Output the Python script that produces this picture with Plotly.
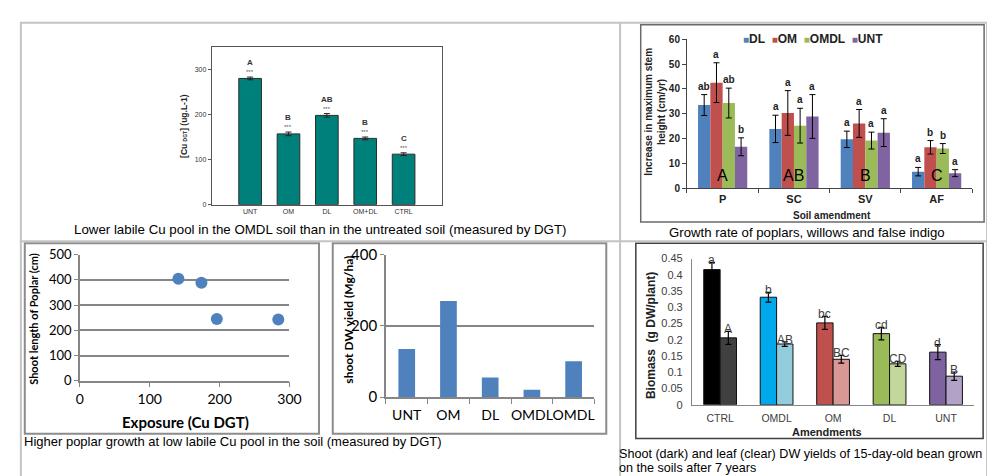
import plotly.graph_objects as go

W, H = 995, 476
def px(x): return x / W
def py(y): return 1 - y / H

# ---------------- data ----------------
# Chart 1: labile Cu (DGT)
cu_cats = ["UNT", "OM", "DL", "OM+DL", "CTRL"]
cu_vals = [280, 157, 198, 147, 112]
cu_err = [3, 4, 4, 3, 3]
cu_letters = ["A", "B", "AB", "B", "C"]

# Chart 2: growth rate
growth_species = ["P", "SC", "SV", "AF"]
growth_series = ["DL", "OM", "OMDL", "UNT"]
growth_DL = [33.5, 23.9, 19.7, 6.7]
growth_OM = [42.5, 30.3, 26.1, 16.5]
growth_OMDL = [34.3, 25.2, 19.2, 16.0]
growth_UNT = [16.7, 28.9, 22.4, 6.1]
err_DL = [4.2, 5.5, 3.3, 1.7]
err_OM = [8.0, 9.0, 5.6, 2.7]
err_OMDL = [6.0, 7.0, 3.4, 2.0]
err_UNT = [3.6, 8.8, 5.6, 1.4]
letters_DL = ["ab", "a", "a", "a"]
letters_OM = ["a", "a", "a", "b"]
letters_OMDL = ["ab", "a", "a", "b"]
letters_UNT = ["b", "a", "a", "a"]
species_letters = ["A", "AB", "B", "C"]

# Chart 3: shoot length vs exposure
exposure = [141, 174, 196, 284]
shoot_len = [405, 389, 245, 243]

# Chart 4: shoot DW yield
yield_cats = ["UNT", "OM", "DL", "OMDL", "OMDL"]
yield_vals = [135, 270, 55, 21, 101]

# Chart 5: bean biomass
bean_cats = ["CTRL", "OMDL", "OM", "DL", "UNT"]
shoot_dw = [0.416, 0.331, 0.252, 0.219, 0.162]
shoot_err = [0.022, 0.015, 0.020, 0.019, 0.023]
leaf_dw = [0.206, 0.187, 0.140, 0.126, 0.088]
leaf_err = [0.020, 0.007, 0.012, 0.008, 0.013]
shoot_letters = ["a", "b", "bc", "cd", "d"]
leaf_letters = ["A", "AB", "BC", "CD", "B"]

# ---------------- styles ----------------
ARIAL = "Liberation Sans, Arial, sans-serif"
CALIBRI = "Lato, Carlito, Calibri, sans-serif"
TEAL = "#00807b"
growth_colors = ["#4F81BD", "#C0504D", "#9BBB59", "#8064A2"]
shoot_colors = ["#000000", "#00A8EC", "#C0504D", "#9BBB59", "#7F63A1"]
leaf_colors = ["#404040", "#93CDDD", "#D99795", "#C4D79B", "#B3A2C7"]
GRID = "#868686"

fig = go.Figure()
annotations = []
shapes = []

def ann(text, x, y, size, family=ARIAL, color="#000", xanchor="center", yanchor="middle", angle=0, weight="normal"):
    annotations.append(dict(text=text, x=px(x), y=py(y), xref="paper", yref="paper", showarrow=False,
                            font=dict(size=size, family=family, color=color, weight=weight),
                            xanchor=xanchor, yanchor=yanchor, textangle=angle, borderpad=0))

def rect(x0, y0, x1, y1, color, width):
    shapes.append(dict(type="rect", xref="paper", yref="paper", x0=px(x0), x1=px(x1), y0=py(y1), y1=py(y0),
                       line=dict(color=color, width=width), fillcolor="rgba(0,0,0,0)", layer="above"))

def line(x0, y0, x1, y1, color, width):
    shapes.append(dict(type="line", xref="paper", yref="paper", x0=px(x0), x1=px(x1), y0=py(y0), y1=py(y1),
                       line=dict(color=color, width=width), layer="above"))

# ---------------- Chart 1 ----------------
idx1 = list(range(len(cu_cats)))
fig.add_trace(go.Bar(x=idx1, y=cu_vals, width=0.59, offset=-0.295, xaxis="x", yaxis="y",
                     marker=dict(color=TEAL, line=dict(color="#2b2b2b", width=1)),
                     error_y=dict(type="data", array=cu_err, color="#222", thickness=1, width=3),
                     showlegend=False, hoverinfo="skip"))
for i, (v, e, L) in enumerate(zip(cu_vals, cu_err, cu_letters)):
    annotations.append(dict(text="***", x=i, y=v + e, xref="x", yref="y", showarrow=False, yanchor="bottom",
                            yshift=0, font=dict(size=6, color="#555", family=ARIAL)))
    annotations.append(dict(text=L, x=i, y=v + e, xref="x", yref="y", showarrow=False, yanchor="bottom",
                            yshift=8, font=dict(size=8, color="#333", family=ARIAL, weight="bold")))
ann("<b>[Cu <span style='font-size:5px'>DGT</span>] (ug.L-1)</b>", 175, 112, 8.5, color="#222", angle=-90)

# ---------------- Chart 2 ----------------
g_vals = [growth_DL, growth_OM, growth_OMDL, growth_UNT]
g_errs = [err_DL, err_OM, err_OMDL, err_UNT]
g_lets = [letters_DL, letters_OM, letters_OMDL, letters_UNT]
bw2 = 0.1725
idx2 = list(range(len(growth_species)))
for k, name in enumerate(growth_series):
    off = -2 * bw2 + k * bw2
    fig.add_trace(go.Bar(x=idx2, y=g_vals[k], width=bw2, offset=off, xaxis="x2", yaxis="y2", name=name,
                         marker=dict(color=growth_colors[k], line=dict(width=0)),
                         error_y=dict(type="data", array=g_errs[k], color="#000", thickness=1, width=3),
                         showlegend=False, hoverinfo="skip"))
    for i in idx2:
        annotations.append(dict(text=g_lets[k][i], x=i + off + bw2 / 2, y=g_vals[k][i] + g_errs[k][i],
                                xref="x2", yref="y2", showarrow=False, yanchor="bottom", yshift=1,
                                font=dict(size=10, color="#222", family=ARIAL, weight="bold")))
for i, L in enumerate(species_letters):
    annotations.append(dict(text=L, x=i, y=5, xref="x2", yref="y2", showarrow=False, yanchor="middle",
                            font=dict(size=16, color="#000", family=ARIAL)))
legend_txt = "&nbsp;&nbsp;".join(f"<span style='color:{c};font-size:10px'>■</span>{n}"
                                  for c, n in zip(growth_colors, growth_series))
ann(legend_txt, 742, 22, 12, xanchor="left", color="#222", weight="bold")
ann("Increase in maximum stem<br>height (cm/yr)", 654, 97, 10, angle=-90, color="#222", weight="bold")
ann("Soil amendment", 833, 205, 10, color="#222", weight="bold")
rect(639, 7, 988, 212, "#6a6a6a", 1.5)

# ---------------- Chart 3 ----------------
fig.add_trace(go.Scatter(x=exposure, y=shoot_len, mode="markers", xaxis="x3", yaxis="y3",
                         marker=dict(size=12, color="#4F81BD", line=dict(width=0)),
                         showlegend=False, hoverinfo="skip"))
ann("Shoot length of Poplar (cm)", 22, 313, 11, family=CALIBRI, angle=-90, weight="bold")
ann("Exposure (Cu DGT)", 176, 420, 15, family=CALIBRI, weight="bold")
rect(13, 234, 312, 432, "#8c8c8c", 2)

# ---------------- Chart 4 ----------------
idx4 = list(range(len(yield_cats)))
fig.add_trace(go.Bar(x=idx4, y=yield_vals, width=0.4, offset=-0.2, xaxis="x4", yaxis="y4",
                     marker=dict(color="#4F81BD", line=dict(width=0)), showlegend=False, hoverinfo="skip"))
ann("shoot DW yield (Mg/ha)", 342, 314, 12, family=CALIBRI, angle=-90, weight="bold")
rect(326, 234, 604, 432, "#8c8c8c", 2)

# ---------------- Chart 5 ----------------
idx5 = list(range(len(bean_cats)))
fig.add_trace(go.Bar(x=idx5, y=shoot_dw, width=0.29, offset=-0.29, xaxis="x5", yaxis="y5",
                     marker=dict(color=shoot_colors, line=dict(color="#111", width=1)),
                     error_y=dict(type="data", array=shoot_err, color="#000", thickness=1.2, width=3),
                     showlegend=False, hoverinfo="skip"))
fig.add_trace(go.Bar(x=idx5, y=leaf_dw, width=0.29, offset=0, xaxis="x5", yaxis="y5",
                     marker=dict(color=leaf_colors, line=dict(color="#111", width=1)),
                     error_y=dict(type="data", array=leaf_err, color="#000", thickness=1.2, width=3),
                     showlegend=False, hoverinfo="skip"))
for i in idx5:
    annotations.append(dict(text=shoot_letters[i], x=i - 0.145, y=shoot_dw[i] + shoot_err[i], xref="x5", yref="y5",
                            showarrow=False, yanchor="middle", yshift=2,
                            font=dict(size=12, color="#404040", family=ARIAL)))
    annotations.append(dict(text=leaf_letters[i], x=i + 0.145, y=leaf_dw[i] + leaf_err[i], xref="x5", yref="y5",
                            showarrow=False, yanchor="middle", yshift=2,
                            font=dict(size=12, color="#404040", family=ARIAL)))
ann("Biomass  (g DW/plant)", 649, 330, 12, angle=-90, weight="bold", color="#222")
ann("Amendments", 828, 430, 11, weight="bold", color="#222")
rect(634, 234, 987, 437, "#404040", 1.5)

# ---------------- captions ----------------
ann("Lower labile Cu pool in the OMDL soil than in the untreated soil (measured by DGT)", 313, 220, 13.3)
ann("Growth rate of poplars, willows and false indigo", 808, 223, 13.2)
ann("Higher poplar growth at low labile Cu pool in the soil (measured by DGT)", 11, 440, 13, xanchor="left")
ann("Shoot (dark) and leaf (clear) DW yields of 15-day-old bean grown", 616, 453, 12.6, xanchor="left")
ann("on the soils after 7 years", 616, 468, 12.6, xanchor="left")

# table borders
rect(9, 5, 991, 482, "#c4c4c4", 2)
line(618, 5, 618, 476, "#c4c4c4", 2)
line(9, 232, 991, 232, "#c4c4c4", 2)

# ---------------- axes ----------------
fig.update_layout(
    width=W, height=H, margin=dict(l=0, r=0, t=0, b=0),
    paper_bgcolor="white", plot_bgcolor="rgba(0,0,0,0)", barmode="overlay", showlegend=False,
    annotations=annotations, shapes=shapes,
    xaxis=dict(domain=[px(203), px(437)], range=[-1, 5], tickvals=idx1, ticktext=cu_cats, anchor="y",
               showline=True, mirror=True, linecolor="#555", linewidth=1, ticks="", showgrid=False, zeroline=False,
               tickangle=0, tickfont=dict(size=7, color="#333", family=ARIAL)),
    yaxis=dict(domain=[py(194), py(30)], range=[0, 350], tickvals=[0, 100, 200, 300], anchor="x",
               showline=True, mirror=True, linecolor="#555", linewidth=1, ticks="outside", ticklen=3,
               tickcolor="#555", showgrid=False, zeroline=False, tickfont=dict(size=7, color="#333", family=ARIAL)),
    xaxis2=dict(domain=[px(686), px(976)], range=[-0.5, 3.5], tickvals=idx2, ticktext=growth_species, anchor="y2",
                showline=True, linecolor="#444", ticks="", showgrid=False, zeroline=False, tickangle=0,
                minor=dict(tickvals=[-0.5, 0.5, 1.5, 2.5, 3.5], ticks="outside", ticklen=4, tickcolor="#444"),
                tickfont=dict(size=11, color="#222", family=ARIAL, weight="bold")),
    yaxis2=dict(domain=[py(177), py(22)], range=[0, 60], dtick=10, anchor="x2",
                showline=True, linecolor="#444", ticks="outside", ticklen=4, tickcolor="#444",
                showgrid=False, zeroline=False, tickfont=dict(size=10, color="#222", family=ARIAL, weight="bold")),
    xaxis3=dict(domain=[px(69), px(282)], range=[0, 300], dtick=100, anchor="y3",
                showline=True, linecolor=GRID, linewidth=1.5, ticks="outside", ticklen=5, tickcolor=GRID,
                showgrid=False, zeroline=False, tickangle=0, tickfont=dict(size=14, color="#000", family=CALIBRI)),
    yaxis3=dict(domain=[py(377), py(246)], range=[0, 500], dtick=100, anchor="x3",
                showline=True, linecolor=GRID, linewidth=1.5, ticks="outside", ticklen=4, tickcolor=GRID,
                showgrid=True, gridcolor=GRID, gridwidth=1.5, zeroline=False,
                tickfont=dict(size=13, color="#000", family=CALIBRI)),
    xaxis4=dict(domain=[px(380), px(592)], range=[-0.5, 4.5], tickvals=idx4, ticktext=yield_cats, anchor="y4",
                showline=True, linecolor=GRID, linewidth=1.5, ticks="", showgrid=False, zeroline=False,
                tickangle=0, ticklabelstandoff=4,
                minor=dict(tickvals=[-0.5, 0.5, 1.5, 2.5, 3.5, 4.5], ticks="outside", ticklen=5, tickcolor=GRID),
                tickfont=dict(size=14, color="#000", family=CALIBRI)),
    yaxis4=dict(domain=[py(394), py(246)], range=[0, 400], dtick=200, anchor="x4",
                showline=True, linecolor=GRID, linewidth=1.5, ticks="outside", ticklen=4, tickcolor=GRID,
                showgrid=True, gridcolor=GRID, gridwidth=1.5, zeroline=False,
                tickfont=dict(size=15, color="#000", family=CALIBRI)),
    xaxis5=dict(domain=[px(691), px(978)], range=[-0.5, 4.5], tickvals=idx5, ticktext=bean_cats, anchor="y5",
                showline=True, linecolor=GRID, ticks="", showgrid=False, zeroline=False, ticklabelstandoff=4,
                tickangle=0, tickfont=dict(size=10.5, color="#404040", family=ARIAL)),
    yaxis5=dict(domain=[py(402), py(250)], range=[0, 0.45], dtick=0.05, anchor="x5",
                showline=True, linecolor=GRID, ticks="", showgrid=False, zeroline=False, ticklabelstandoff=6,
                tickfont=dict(size=11, color="#404040", family=ARIAL)),
)

fig.write_html("out.html")
